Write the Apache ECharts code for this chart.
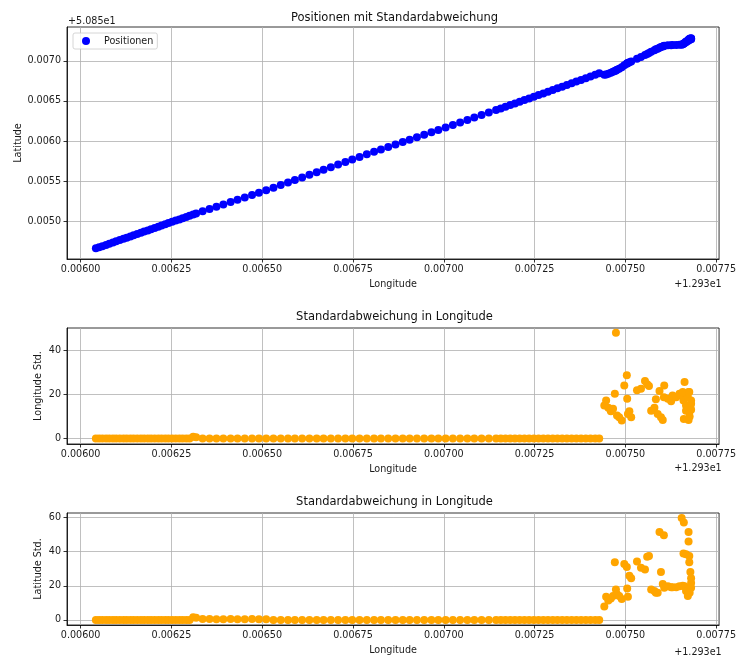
<!DOCTYPE html>
<html>
<head>
<meta charset="utf-8">
<script src="https://cdn.jsdelivr.net/npm/echarts@6/dist/echarts.min.js"></script>
<style>
  html, body { margin: 0; background: #fff; }
  #chart { width: 739px; height: 656px; }
</style>
</head>
<body>
<div id="chart"></div>
<script>
// offsets in micro-degrees: lon = 12.93 + v/1e6, lat = 50.85 + v/1e6
const lonMicro = [
  6042, 6051, 6060, 6070, 6079, 6089, 6098, 6108, 6118, 6127, 6137, 6146, 6156, 6166,
  6175, 6185, 6194, 6204, 6214, 6223, 6233, 6242, 6252, 6262, 6272, 6281, 6291, 6300,
  6310, 6318, 6336, 6355, 6374, 6393, 6413, 6432, 6452, 6472, 6491, 6511, 6531, 6551,
  6571, 6590, 6610, 6630, 6650, 6669, 6689, 6709, 6729, 6748, 6768, 6788, 6808, 6827,
  6847, 6867, 6887, 6906, 6926, 6946, 6966, 6985, 7005, 7025, 7045, 7065, 7084, 7104,
  7124, 7144,
  7157, 7170, 7183, 7196, 7209, 7222, 7235, 7248, 7261, 7274, 7287, 7300, 7313, 7326,
  7339, 7352, 7365, 7378, 7391, 7404, 7417, 7428,
  7442, 7447, 7453, 7460, 7466, 7471, 7474, 7477, 7483, 7490, 7497, 7504, 7505, 7507,
  7511, 7516, 7532, 7543, 7554, 7560, 7565, 7571, 7580, 7584, 7589, 7594, 7598, 7603,
  7606, 7607, 7617, 7626, 7630, 7640, 7649, 7655, 7658, 7660, 7661, 7663, 7667, 7667,
  7672, 7674, 7674, 7676, 7676, 7679, 7681, 7681, 7681, 7677
];
const latMicro = [
  4668, 4682, 4695, 4711, 4725, 4740, 4756, 4771, 4786, 4801, 4816, 4831, 4846, 4861,
  4876, 4891, 4906, 4921, 4936, 4951, 4968, 4984, 5000, 5014, 5028, 5043, 5058, 5072,
  5089, 5101, 5128, 5156, 5184, 5213, 5243, 5271, 5300, 5330, 5359, 5390, 5422, 5454,
  5487, 5517, 5550, 5582, 5614, 5645, 5677, 5710, 5742, 5772, 5805, 5837, 5868, 5897,
  5928, 5958, 5989, 6018, 6049, 6079, 6110, 6139, 6170, 6201, 6233, 6264, 6294, 6325,
  6357, 6388,
  6408, 6429, 6449, 6470, 6490, 6511, 6531, 6552, 6573, 6594, 6615, 6636, 6657, 6678,
  6699, 6720, 6741, 6762, 6784, 6805, 6826, 6844,
  6826, 6830, 6838, 6850, 6862, 6872, 6880, 6888, 6902, 6920, 6945, 6962, 6968, 6972,
  6982, 6990, 7025, 7048, 7072, 7085, 7098, 7112, 7130, 7142, 7150, 7162, 7170, 7178,
  7184, 7186, 7192, 7194, 7195, 7196, 7198, 7200, 7205, 7210, 7215, 7222, 7230, 7238,
  7245, 7255, 7262, 7268, 7272, 7276, 7280, 7274, 7266, 7260
];
const lonStd = [
  0, 0, 0, 0, 0, 0, 0, 0, 0, 0, 0, 0, 0, 0,
  0, 0, 0, 0, 0, 0, 0, 0, 0, 0, 0, 0, 0, 0,
  0.8, 0.6, 0, 0, 0, 0, 0, 0, 0, 0, 0, 0, 0, 0,
  0, 0, 0, 0, 0, 0, 0, 0, 0, 0, 0, 0, 0, 0,
  0, 0, 0, 0, 0, 0, 0, 0, 0, 0, 0, 0, 0, 0,
  0, 0,
  0, 0, 0, 0, 0, 0, 0, 0, 0, 0, 0, 0, 0, 0,
  0, 0, 0, 0, 0, 0, 0, 0,
  14.9, 17.2, 13.9, 12.3, 13.4, 20.2, 47.9, 10.4, 9.6, 8.1, 24.0, 28.6, 18.0, 11.1,
  12.3, 9.6, 21.8, 22.5, 26.0, 24.5, 23.8, 12.6, 13.9, 17.7, 11.1, 21.5, 9.6, 8.4,
  18.7, 24.0, 18.0, 16.9, 19.5, 18.7, 20.2, 19.5, 21.0, 17.2, 8.8, 25.6, 14.9, 12.6,
  18.7, 8.4, 21.0, 11.9, 21.0, 14.2, 17.2, 15.7, 13.0, 10.0
];
const latStd = [
  0, 0, 0, 0, 0, 0, 0, 0, 0, 0, 0, 0, 0, 0,
  0, 0, 0, 0, 0, 0, 0, 0, 0, 0, 0, 0, 0, 0,
  1.5, 1.2, 0.5, 0.5, 0.4, 0.4, 0.5, 0.4, 0.4, 0.5, 0.4, 0.3, 0, 0,
  0, 0, 0, 0, 0, 0, 0, 0, 0, 0, 0, 0, 0, 0,
  0, 0, 0, 0, 0, 0, 0, 0, 0, 0, 0, 0, 0, 0,
  0, 0,
  0, 0, 0, 0, 0, 0, 0, 0, 0, 0, 0, 0, 0, 0,
  0, 0, 0, 0, 0, 0, 0, 0,
  7.9, 13.5, 11.3, 12.5, 14.0, 33.8, 17.8, 15.0, 14.0, 12.2, 32.8, 31.0, 18.4, 13.5,
  25.9, 24.4, 34.3, 30.6, 29.6, 37.1, 37.5, 17.8, 16.9, 15.9, 15.9, 51.6, 28.1, 21.0,
  49.7, 18.8, 19.7, 19.1, 19.1, 19.1, 19.7, 59.7, 20.0, 39.0, 57.2, 19.7, 16.9, 38.5,
  14.0, 51.6, 46.0, 37.5, 33.8, 28.1, 24.4, 21.6, 18.8, 15.9
];

const lonTicks = [0.006, 0.00625, 0.0065, 0.00675, 0.007, 0.00725, 0.0075, 0.00775];
const latTicks = [0.005, 0.0055, 0.006, 0.0065, 0.007];
const lonStdTicks = [0, 20, 40];
const latStdTicks = [0, 20, 40, 60];

const FONT = 'DejaVu Sans';
const TXT = '#1a1a1a';
const FS = 9.6;

const lon = lonMicro.map(v => v / 1e6);
const lat = latMicro.map(v => v / 1e6);

const chart = echarts.init(document.getElementById('chart'));

function xAxisFor(i) {
  return {
    type: 'value', gridIndex: i, min: 0.0059625, max: 0.007758,
    name: 'Longitude', nameLocation: 'middle', nameGap: 20, nameMoveOverlap: false,
    nameTextStyle: { fontFamily: FONT, fontSize: FS, color: TXT },
    axisLine: { onZero: false, lineStyle: { color: '#000', width: 0.8 } },
    axisTick: { length: 3.5, customValues: lonTicks, lineStyle: { color: '#000', width: 0.8 } },
    axisLabel: { customValues: lonTicks, formatter: v => v.toFixed(5), fontFamily: FONT, fontSize: FS, color: TXT, margin: 5 },
    splitLine: { show: true, lineStyle: { color: '#b0b0b0', width: 0.8 } }
  };
}

function yAxisFor(i, name, min, max, ticks, fmt, gap) {
  return {
    type: 'value', gridIndex: i, min: min, max: max,
    name: name, nameLocation: 'middle', nameGap: gap, nameMoveOverlap: false,
    nameTextStyle: { fontFamily: FONT, fontSize: FS, color: TXT },
    axisLine: { show: true, onZero: false, lineStyle: { color: '#000', width: 0.8 } },
    axisTick: { show: true, length: 3.5, customValues: ticks, lineStyle: { color: '#000', width: 0.8 } },
    axisLabel: { customValues: ticks, formatter: fmt, fontFamily: FONT, fontSize: FS, color: TXT, margin: 6 },
    splitLine: { show: true, lineStyle: { color: '#b0b0b0', width: 0.8 } }
  };
}

const titleStyle = { fontFamily: FONT, fontSize: 11.5, fontWeight: 'normal', color: '#111' };

function offsetText(x, y, text, align) {
  return {
    type: 'text', x: x, y: y,
    style: { text: text, align: align, verticalAlign: 'middle', font: FS + 'px "' + FONT + '"', fill: TXT }
  };
}

chart.setOption({
  animation: false,
  backgroundColor: '#fff',
  title: [
    { text: 'Positionen mit Standardabweichung', left: 394.5, top: 12, textAlign: 'center', padding: 0, textStyle: titleStyle },
    { text: 'Standardabweichung in Longitude', left: 394.5, top: 311, textAlign: 'center', padding: 0, textStyle: titleStyle },
    { text: 'Standardabweichung in Longitude', left: 394.5, top: 496, textAlign: 'center', padding: 0, textStyle: titleStyle }
  ],
  legend: {
    data: ['Positionen'], left: 73, top: 33,
    padding: [3, 4, 3, 9], itemWidth: 8, itemHeight: 8, icon: 'circle',
    borderColor: '#cccccc', borderWidth: 0.8, borderRadius: 2, backgroundColor: 'rgba(255,255,255,0.8)',
    textStyle: { fontFamily: FONT, fontSize: FS, color: TXT, padding: [0, 0, 0, 9] }
  },
  grid: [
    { left: 67, top: 27, width: 655, height: 232, show: true, borderColor: '#000', borderWidth: 0.8 },
    { left: 67, top: 328, width: 655, height: 116, show: true, borderColor: '#000', borderWidth: 0.8 },
    { left: 67, top: 513, width: 655, height: 115, show: true, borderColor: '#000', borderWidth: 0.8 }
  ],
  xAxis: [xAxisFor(0), xAxisFor(1), xAxisFor(2)],
  yAxis: [
    yAxisFor(0, 'Latitude', 0.0045355, 0.0074197, latTicks, v => v.toFixed(4), 44),
    yAxisFor(1, 'Longitude Std.', -2.5, 50, lonStdTicks, v => String(v), 24),
    yAxisFor(2, 'Latitude Std.', -3, 62.7, latStdTicks, v => String(v), 24)
  ],
  graphic: [
    offsetText(68, 21, '+5.085e1', 'left'),
    offsetText(721.7, 284.5, '+1.293e1', 'right'),
    offsetText(721.7, 468.5, '+1.293e1', 'right'),
    offsetText(721.7, 652.5, '+1.293e1', 'right')
  ],
  series: [
    {
      name: 'Positionen', type: 'scatter', xAxisIndex: 0, yAxisIndex: 0,
      symbolSize: 8, itemStyle: { color: '#0000ff', opacity: 1 },
      data: lon.map((x, k) => [x, lat[k]])
    },
    {
      name: 'Longitude Std.', type: 'scatter', xAxisIndex: 1, yAxisIndex: 1,
      symbolSize: 8, itemStyle: { color: '#ffa500', opacity: 1 },
      data: lon.map((x, k) => [x, lonStd[k]])
    },
    {
      name: 'Latitude Std.', type: 'scatter', xAxisIndex: 2, yAxisIndex: 2,
      symbolSize: 8, itemStyle: { color: '#ffa500', opacity: 1 },
      data: lon.map((x, k) => [x, latStd[k]])
    }
  ]
});
</script>
</body>
</html>
